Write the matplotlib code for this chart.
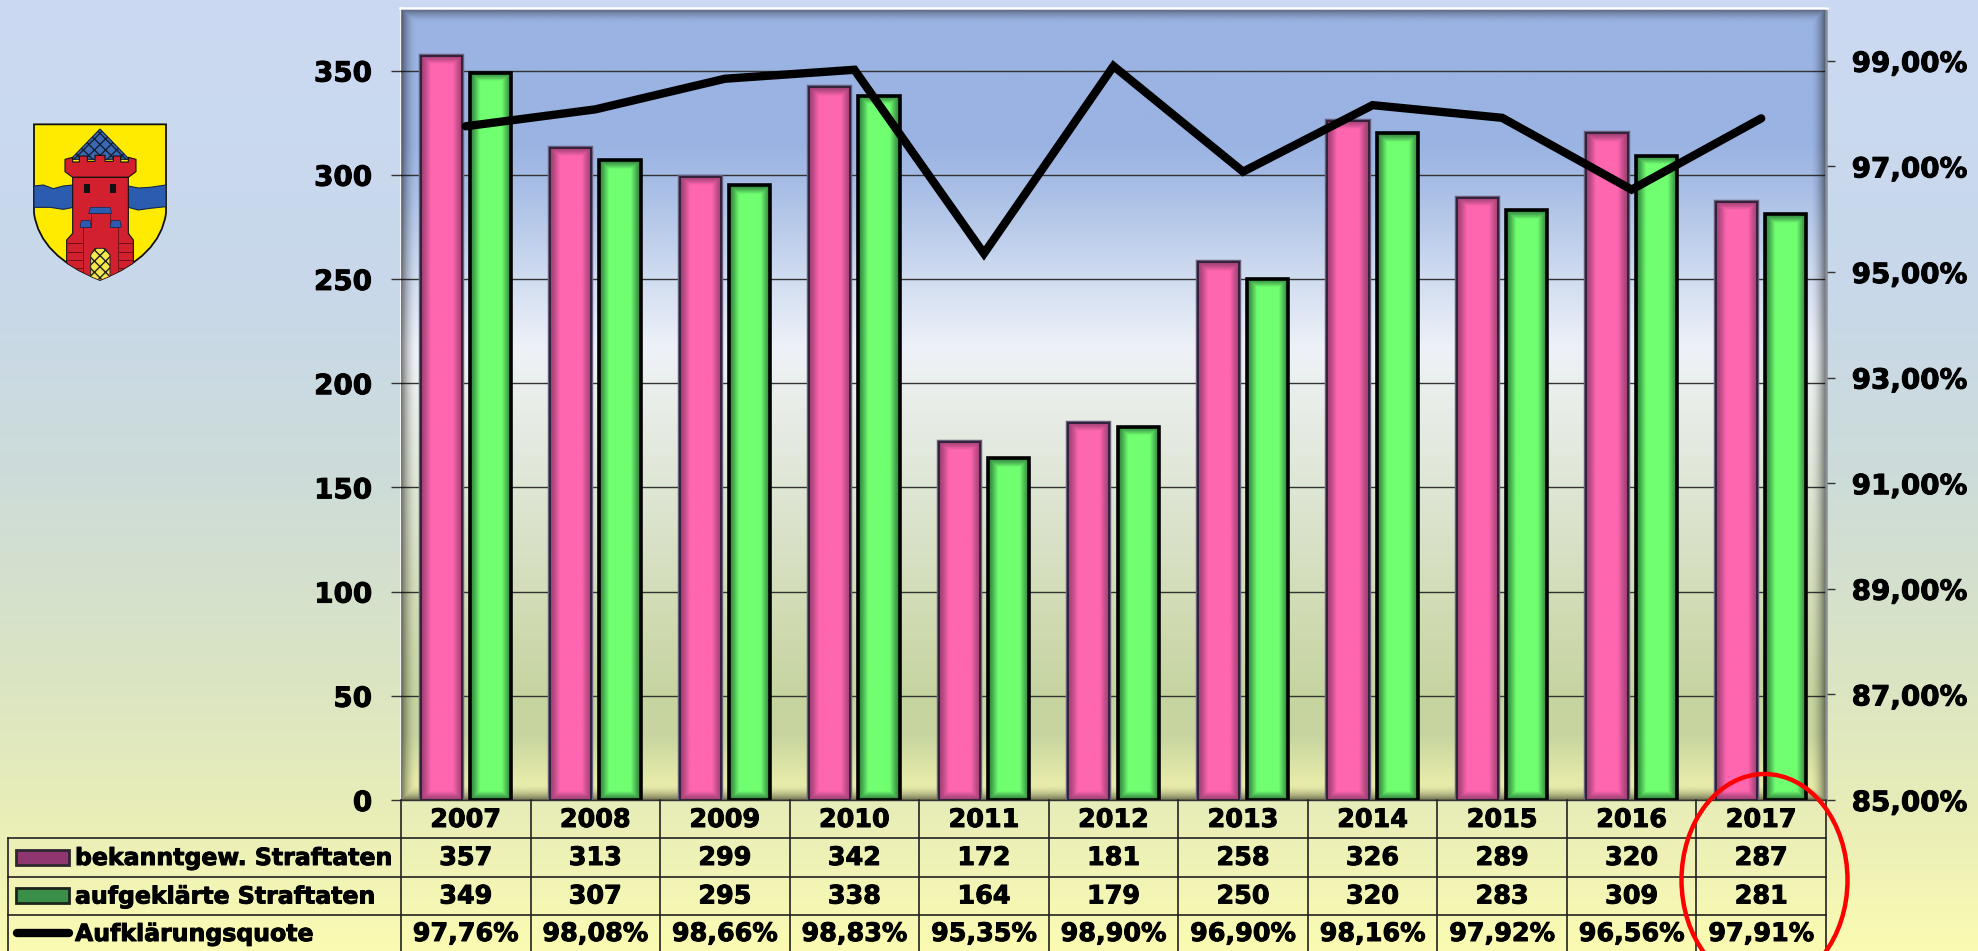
import numpy as np
import matplotlib
matplotlib.use("Agg")
import matplotlib.pyplot as plt
import matplotlib.patheffects as pe
from matplotlib.colors import to_rgb
from matplotlib.patches import Ellipse, PathPatch, Polygon, Rectangle
from matplotlib.path import Path

JAHRE = [2007, 2008, 2009, 2010, 2011, 2012, 2013, 2014, 2015, 2016, 2017]
BEKANNT = [357, 313, 299, 342, 172, 181, 258, 326, 289, 320, 287]
AUFGEKLAERT = [349, 307, 295, 338, 164, 179, 250, 320, 283, 309, 281]
QUOTE = [97.76, 98.08, 98.66, 98.83, 95.35, 98.90, 96.90, 98.16, 97.92, 96.56, 97.91]
ZEILEN = ["bekanntgew. Straftaten", "aufgeklärte Straftaten", "Aufklärungsquote"]

B, H = 1978, 951
LINKS, RECHTS, OBEN, UNTEN = 401, 1826, 8, 800
FETT = [pe.withStroke(linewidth=0.7, foreground="black")]


def verlauf(stops, n):
    # stops: (position 0..1, Farbe)
    pos = [s[0] for s in stops]
    rgb = np.array([to_rgb(s[1]) for s in stops])
    t = np.linspace(0, 1, n)
    return np.stack([np.interp(t, pos, rgb[:, i]) for i in range(3)], axis=1)[:, None, :]


def balken_bild(hell, dunkel, h_px):
    nx, ny = 41, max(int(h_px), 2)
    x = np.minimum(np.arange(nx) + 0.5, nx - np.arange(nx) - 0.5)
    y = np.minimum(np.arange(ny) + 0.5, ny - np.arange(ny) - 0.5)
    sx = np.clip(x / 10, 0, 1) ** 1.3
    sy = np.clip(y / 9, 0, 1) ** 1.3
    s = np.minimum.outer(sy, sx)[..., None]
    return np.array(to_rgb(dunkel)) + (np.array(to_rgb(hell)) - np.array(to_rgb(dunkel))) * s


plt.rcParams["font.family"] = ["DejaVu Sans"]
plt.rcParams["font.weight"] = "bold"

fig = plt.figure(figsize=(B / 100, H / 100), dpi=100)

# Hintergrund der ganzen Grafik
bg = fig.add_axes([0, 0, 1, 1], zorder=0)
bg.axis("off")
bg.imshow(verlauf([(0, "#cbdaf2"), (0.3, "#c8d8ea"), (0.5, "#cddcd9"), (0.72, "#dbe5c2"),
                   (0.85, "#e8edb8"), (1, "#fbfbb2")], 951), aspect="auto")

# Balken, linke Achse
ax = fig.add_axes([LINKS / B, 1 - UNTEN / H, (RECHTS - LINKS) / B, (UNTEN - OBEN) / H], zorder=1)
ax.set_xlim(-0.5, 10.5)
ax.set_ylim(0, 380)
ax.imshow(verlauf([(0, "#9ab3e2"), (0.17, "#9ab3e2"), (0.23, "#a9bfe6"), (0.34, "#d0dcf0"),
                   (0.43, "#eef2f8"), (0.49, "#e9eeea"), (0.62, "#dde5d2"), (0.75, "#d2dcb6"),
                   (0.87, "#c6d4a0"), (0.92, "#c8d5a0"), (0.98, "#e8ecaa"), (1, "#e8ecaa")], 400),
          aspect="auto", extent=(-0.5, 10.5, 0, 380), zorder=0)

# Schatten innen am Rand der Zeichenfläche
yy, xx = np.mgrid[0:792, 0:1425]
d = np.minimum.reduce([xx, 1424 - xx, yy, 791 - yy]).astype(float)
schatten = np.zeros((792, 1425, 4))
schatten[..., 3] = 0.5 * np.clip(1 - d / 16, 0, 1) ** 2
ax.imshow(schatten, aspect="auto", extent=(-0.5, 10.5, 0, 380), zorder=3)

ax.grid(axis="y", color="#333333", linewidth=1)
ax.set_axisbelow(False)
for g in ax.get_ygridlines():
    g.set_zorder(1)

x = np.arange(len(JAHRE))
breite = 0.318
ax.set_xticks([])
ax.set_yticks(np.arange(0, 351, 50))
ax.tick_params(axis="y", length=7.2, width=1, color="#333333", pad=13.5, labelsize=20)

rosa = ax.bar(x - 0.19, BEKANNT, breite, facecolor="none", edgecolor="#6b5f80", linewidth=3.2, zorder=5)
rosa2 = ax.bar(x - 0.19, BEKANNT, breite, facecolor="none", edgecolor="#2a2035", linewidth=1.3, zorder=7)
gruen = ax.bar(x + 0.19, AUFGEKLAERT, breite, facecolor="none", edgecolor="black", linewidth=2.6, zorder=7)
for gruppe, hell, dunkel in [(rosa, "#ff66b0", "#9c3f72"), (gruen, "#70ff70", "#2f7f3c")]:
    for r in gruppe:
        h = r.get_height()
        ax.imshow(balken_bild(hell, dunkel, h * 2.084), aspect="auto", zorder=6,
                  extent=(r.get_x(), r.get_x() + r.get_width(), 0, h))
ax.set_xlim(-0.5, 10.5)
ax.set_ylim(0, 380)

for s in ["top", "bottom", "right"]:
    ax.spines[s].set_visible(False)
ax.spines["left"].set_color("#f4f4f4")
ax.spines["left"].set_linewidth(1.5)
ax.plot([-0.5, 10.5], [0, 0], color="#333333", linewidth=1, clip_on=False, zorder=8)

# Quote, rechte Achse
ax2 = ax.twinx()
ax2.set_ylim(85, 100)
ax2.set_yticks(np.arange(85, 100, 2))
ax2.set_yticklabels([f"{v:.2f}%".replace(".", ",") for v in np.arange(85, 100, 2)])
ax2.tick_params(axis="y", length=6.5, width=1, color="#333333", pad=12, labelsize=20)
ax2.plot(x, QUOTE, color="black", linewidth=6, solid_capstyle="round", solid_joinstyle="miter", zorder=8)
for s in ["top", "bottom", "left"]:
    ax2.spines[s].set_visible(False)
ax2.spines["right"].set_color("#8a8f98")
ax2.spines["right"].set_linewidth(1.8)
for t in ax.get_yticklabels() + ax2.get_yticklabels():
    t.set_path_effects(FETT)

# Ab hier alles in Pixeln der Grafik
ov = fig.add_axes([0, 0, 1, 1], zorder=5)
ov.set_xlim(0, B)
ov.set_ylim(H, 0)
ov.axis("off")
ov.plot([LINKS - 1, RECHTS + 1], [OBEN, OBEN], color="white", linewidth=1.8)

# Tabelle
spalte = (RECHTS - LINKS) / len(JAHRE)
linie = dict(color="#222222", linewidth=1.2)
for yl in [838, 876.5, 914.5]:
    ov.plot([8, RECHTS], [yl, yl], **linie)
ov.plot([8, 8], [838, H], **linie)
for i in range(len(JAHRE) + 1):
    ov.plot([LINKS + i * spalte] * 2, [UNTEN, H], **linie)

for i, jahr in enumerate(JAHRE):
    xm = LINKS + (i + 0.5) * spalte
    zellen = [str(jahr), str(BEKANNT[i]), str(AUFGEKLAERT[i]), f"{QUOTE[i]:.2f}%".replace(".", ",")]
    for text, ym in zip(zellen, [820, 858, 896.5, 934]):
        ov.text(xm, ym, text, ha="center", va="center", fontsize=18.3, path_effects=FETT)

for zeile, ym in zip(ZEILEN, [858, 896.5, 934]):
    ov.text(75, ym, zeile, ha="left", va="center", fontsize=17, path_effects=FETT)

ov.add_patch(Rectangle((16, 850), 53, 15, facecolor="#8f3570", edgecolor="#2e2630", linewidth=2))
ov.add_patch(Rectangle((16, 888), 53, 15, facecolor="#3a8f48", edgecolor="#1c241c", linewidth=2))
ov.plot([17, 69], [933, 933], color="black", linewidth=6, solid_capstyle="round")

# roter Kreis um 2017
ov.add_patch(Ellipse((1764.5, 880), 166, 212, facecolor="none", edgecolor="#ff0000", linewidth=3.2, zorder=9))


# Wappen, Koordinaten aus dem Ausschnitt
def w(pts):
    return [(px / 3, 100 + py / 3) for px, py in pts]


def flaeche(pts, **kw):
    p = Polygon(w(pts), **kw)
    ov.add_patch(p)
    p.set_clip_path(schild_p)
    return p


schild = Path(w([(102, 73), (498, 73), (498, 340), (480, 470), (300, 540), (120, 470), (102, 340), (102, 73)]),
              [Path.MOVETO, Path.LINETO, Path.LINETO, Path.CURVE3, Path.CURVE3, Path.CURVE3, Path.CURVE3, Path.CLOSEPOLY])
schild_p = PathPatch(schild, facecolor="#ffeb00", edgecolor="#111111", linewidth=1.3, zorder=10)
ov.add_patch(schild_p)

rot = "#d2202e"
flaeche([(102, 258), (130, 255), (160, 266), (190, 258), (220, 255), (385, 258), (415, 264), (450, 262),
         (498, 255), (498, 320), (450, 325), (415, 330), (385, 322), (220, 322), (190, 328), (150, 322),
         (102, 322)], facecolor="#2c5cb0", edgecolor="#10264f", linewidth=0.8, zorder=11)
flaeche([(300, 87), (388, 178), (212, 178)], facecolor="#3c6ab0", edgecolor="#14203a", linewidth=0.8,
        hatch="xxx", zorder=11)
flaeche([(195, 178), (218, 172), (218, 186), (238, 186), (238, 168), (262, 168), (262, 184), (285, 184),
         (285, 166), (315, 166), (315, 184), (340, 184), (340, 168), (362, 168), (362, 186), (385, 186),
         (385, 172), (408, 178), (408, 215), (385, 232), (218, 232), (195, 215)],
        facecolor=rot, edgecolor="#111111", linewidth=0.8, zorder=12)
flaeche([(218, 232), (385, 232), (385, 400), (400, 420), (400, 560), (200, 560), (200, 420), (218, 400)],
        facecolor=rot, edgecolor="#111111", linewidth=0.8, zorder=12)
flaeche([(248, 380), (272, 380), (272, 340), (330, 340), (330, 380), (355, 380), (355, 560), (248, 560)],
        facecolor=rot, edgecolor="#5a0d14", linewidth=0.5, zorder=13)
for fx in [253, 331]:
    ov.add_patch(Rectangle((fx / 3, 100 + 252 / 3), 18 / 3, 26 / 3, facecolor="#111111", zorder=14))
for pts in [[(272, 322), (330, 322), (335, 340), (266, 340)], [(244, 362), (270, 362), (274, 382), (240, 382)],
            [(334, 362), (360, 362), (364, 382), (330, 382)]]:
    flaeche(pts, facecolor="#2c5cb0", edgecolor="#10264f", linewidth=0.5, zorder=14)
flaeche([(272, 540), (272, 465), (285, 445), (315, 445), (330, 465), (330, 540)],
        facecolor="#f6e84a", edgecolor="#222222", linewidth=0.7, hatch="xxx", zorder=14)
# Mauerfugen unten am Turm
for py in [430, 455, 480, 505]:
    for xa, xb in [(203, 246), (357, 398)]:
        (l,) = ov.plot([xa / 3, xb / 3], [100 + py / 3] * 2, color="#5a0d14", linewidth=0.6, zorder=14)
        l.set_clip_path(schild_p)

fig.savefig("out.png", dpi=100)
